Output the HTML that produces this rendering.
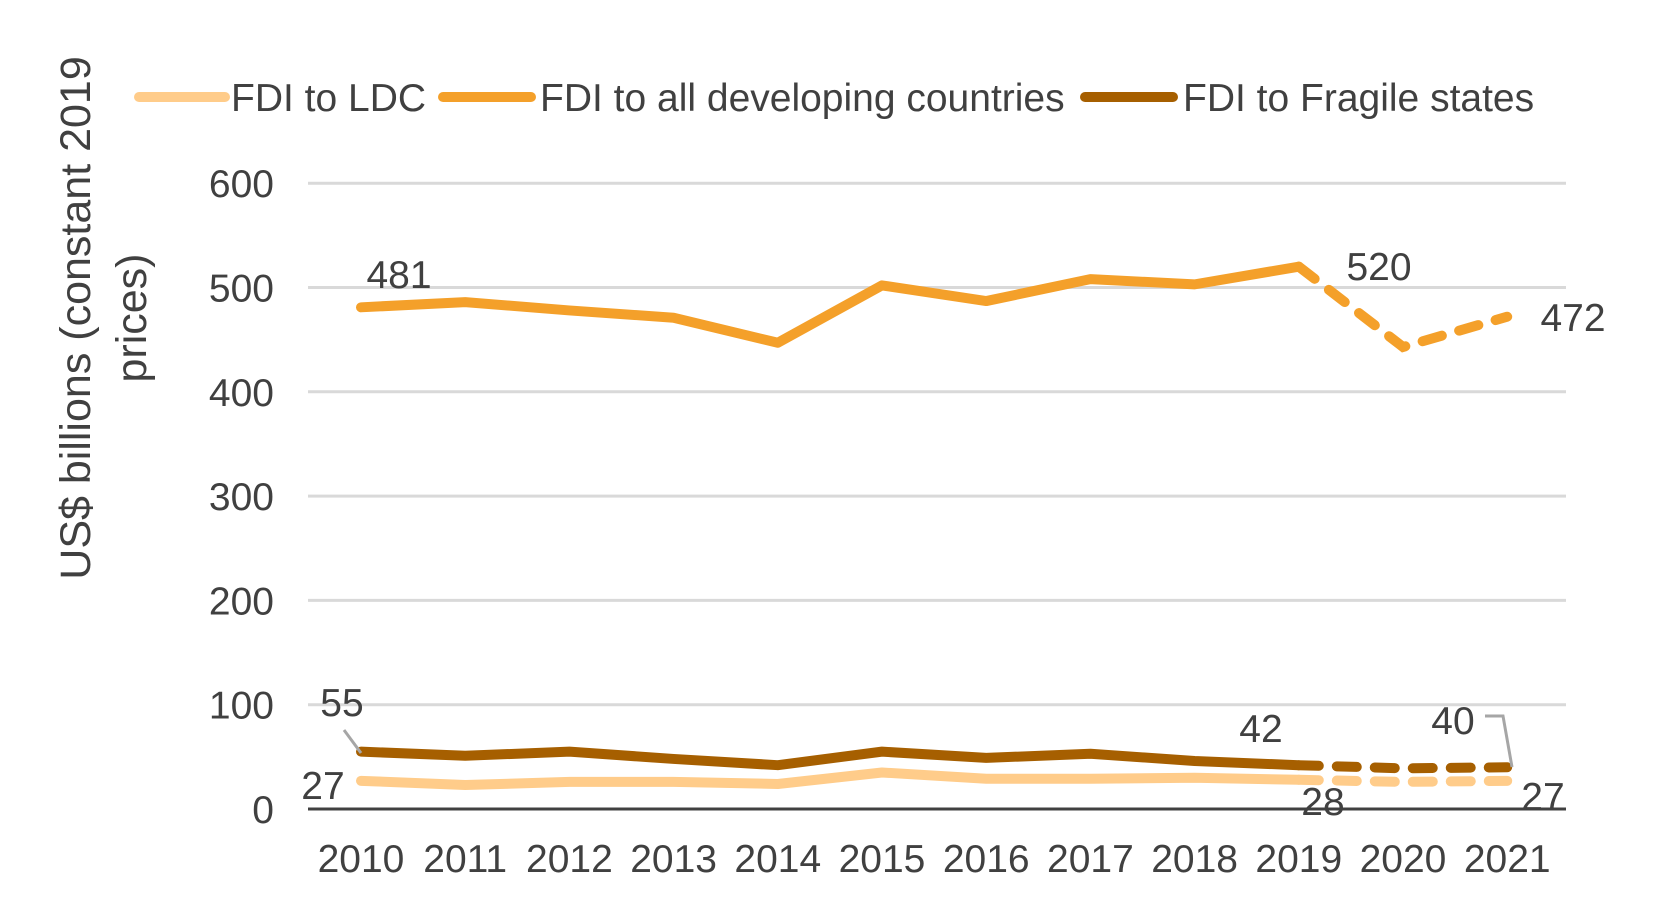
<!DOCTYPE html>
<html><head><meta charset="utf-8"><style>
body{margin:0;background:#fff}
svg text{font-family:"Liberation Sans",Arial,sans-serif;fill:#404040}
</style></head><body>
<svg id="c" width="1669" height="919" xmlns="http://www.w3.org/2000/svg"></svg>
<script>
const years=["2010","2011","2012","2013","2014","2015","2016","2017","2018","2019","2020","2021"];
const ldc=[27,23,26,26,24,35,29,29,30,28,26,27];
const dev=[481,486,478,471,447,502,487,508,503,520,443,472];
const fragile=[55,51,55,48,42,55,49,53,46,42,39,40];
const yTicks=[0,100,200,300,400,500,600];
const NS="http://www.w3.org/2000/svg";
const svg=document.getElementById('c');
const x0=361,xs=104.2,y0=809,ys=1.043,pl=308,pr=1566;
const X=i=>x0+i*xs, Y=v=>y0-v*ys;
function el(t,a,p){const e=document.createElementNS(NS,t);for(const k in a)e.setAttribute(k,a[k]);(p||svg).appendChild(e);return e;}
yTicks.forEach(v=>{
  const l=el('line',{x1:pl,x2:pr,y1:Y(v),y2:Y(v),stroke:v===0?'#404040':'#d9d9d9','stroke-width':3});
  
  
  const t=el('text',{x:274,y:Y(v)+14,'text-anchor':'end','font-size':39,fill:'#595959'});
  t.textContent=v;
  
  
});
years.forEach((y,i)=>{
  const t=el('text',{x:X(i),y:872,'text-anchor':'middle','font-size':39,fill:'#595959'});
  t.textContent=y;
  
  
});
function series(vals,color,name){
  const solid=vals.slice(0,10).map((v,i)=>X(i)+','+Y(v)).join(' ');
  const dash=vals.slice(9).map((v,i)=>X(i+9)+','+Y(v)).join(' ');
  const a=el('polyline',{points:solid,fill:'none',stroke:color,'stroke-width':10,'stroke-linejoin':'round','stroke-linecap':'round'});
  
  
  const b=el('polyline',{points:dash,fill:'none',stroke:color,'stroke-width':10,'stroke-dasharray':'20 18','stroke-linecap':'round'});
  
  
}
series(ldc,'#ffcc8a','ldc');
series(fragile,'#a65f00','fragile');
series(dev,'#f4a02a','developing');
function lab(txt,x,y,name){const t=el('text',{x:x,y:y,'text-anchor':'middle','font-size':39});t.textContent=txt;
  
  }
lab(dev[0],399,288,'label-dev-2010');
lab(dev[9],1379,280,'label-dev-2019');
lab(dev[11],1573,331,'label-dev-2021');
lab(fragile[0],342,716,'label-fragile-2010');
lab(ldc[0],323,799,'label-ldc-2010');
lab(fragile[9],1261,742,'label-fragile-2019');
lab(fragile[11],1453,734,'label-fragile-2021');
lab(ldc[9],1323,815,'label-ldc-2019');
lab(ldc[11],1543,810,'label-ldc-2021');
const l1=el('polyline',{points:'344,730 361,753',fill:'none',stroke:'#a6a6a6','stroke-width':3});


const l2=el('polyline',{points:'1485,716 1503,716 1512,767',fill:'none',stroke:'#a6a6a6','stroke-width':3});


const leg=[['FDI to LDC','#ffcc8a',139,225,231],['FDI to all developing countries','#f4a02a',443,531,540],['FDI to Fragile states','#a65f00',1085,1173,1183]];
leg.forEach(g=>{
  const ln=el('line',{x1:g[2],x2:g[3],y1:97,y2:97,stroke:g[1],'stroke-width':10,'stroke-linecap':'round'});
  
  
  const t=el('text',{x:g[4],y:111,'font-size':39,fill:'#595959'});t.textContent=g[0];
  
  
});
const yt=el('text',{transform:'translate(90,318) rotate(-90)','text-anchor':'middle','font-size':43,fill:'#595959'});
yt.textContent='US$ billions (constant 2019';


const yt2=el('text',{transform:'translate(146,318) rotate(-90)','text-anchor':'middle','font-size':43,fill:'#595959'});
yt2.textContent='prices)';


</script>
</body></html>
